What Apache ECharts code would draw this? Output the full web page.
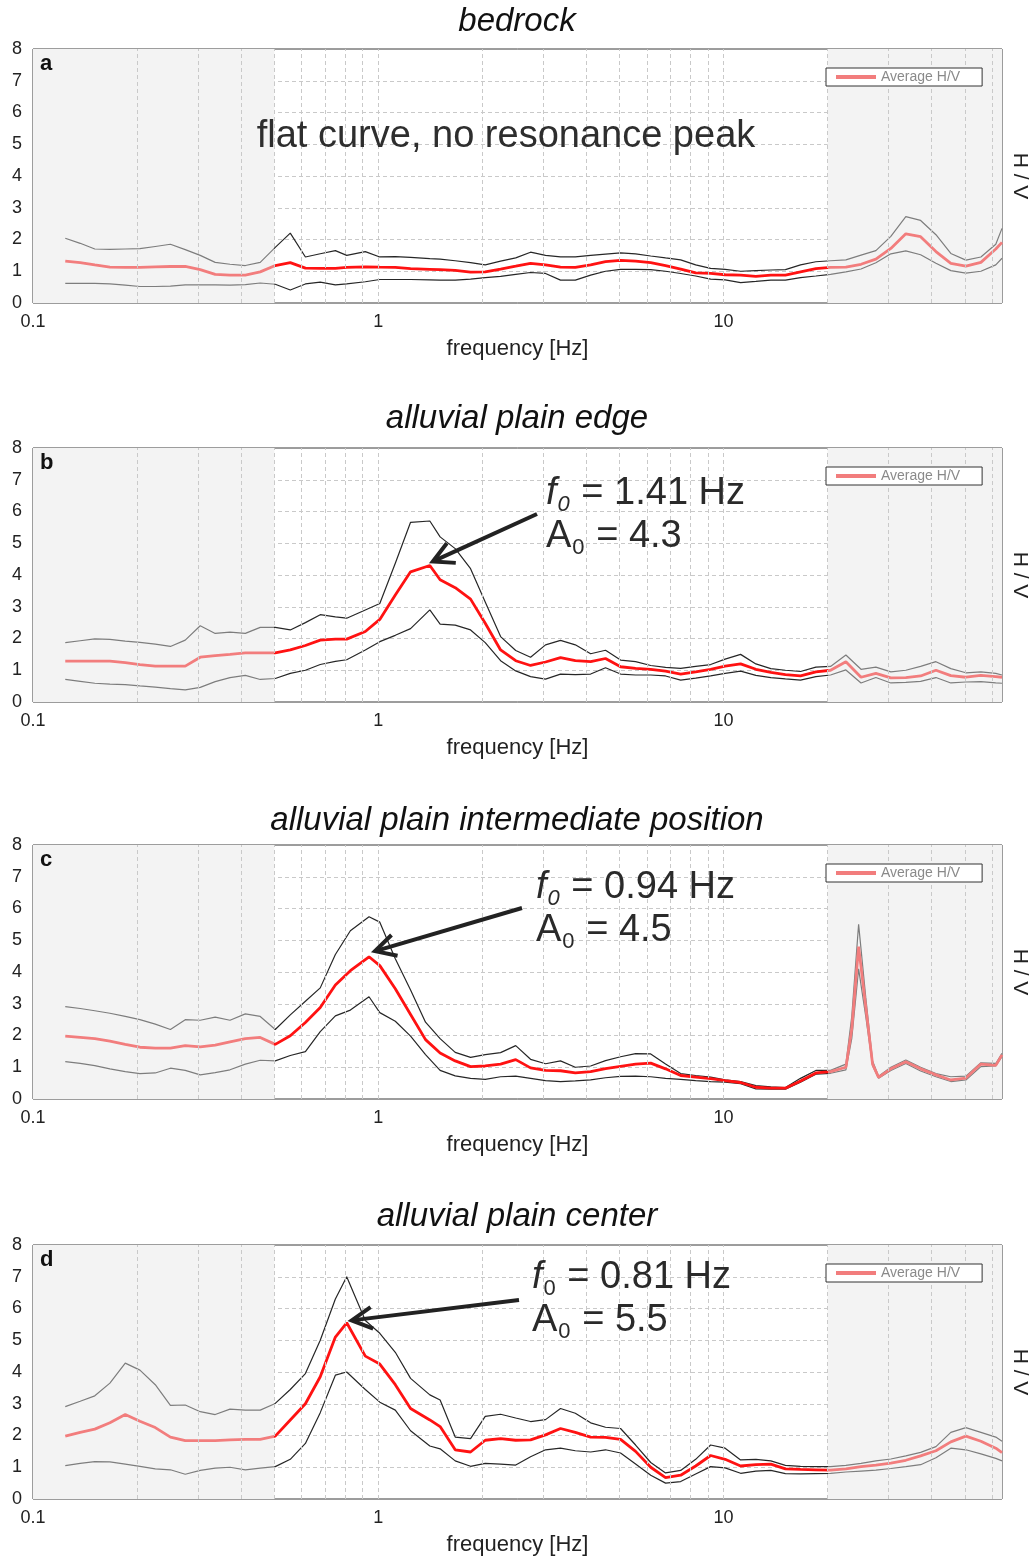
<!DOCTYPE html>
<html>
<head>
<meta charset="utf-8">
<title>H/V spectral ratio curves</title>
<script src="https://cdn.jsdelivr.net/npm/echarts@6/dist/echarts.min.js"></script>
<style>
  html, body { margin: 0; padding: 0; background: #fff; overflow: hidden; }
  #chart { width: 1035px; height: 1561px; }
</style>
</head>
<body>
<div id="chart"></div>
<script>
// frequencies (Hz) shared by panels a, b, d
const freqBase = [0.124, 0.137, 0.151, 0.167, 0.185, 0.204, 0.226, 0.250, 0.276, 0.305,
  0.337, 0.372, 0.412, 0.455, 0.503, 0.556, 0.615, 0.679, 0.751, 0.81,
  0.917, 1.01, 1.12, 1.24, 1.41, 1.51, 1.67, 1.85, 2.04, 2.26,
  2.50, 2.76, 3.05, 3.37, 3.72, 4.12, 4.55, 5.03, 5.56, 6.15,
  6.79, 7.51, 8.30, 9.17, 10.1, 11.2, 12.4, 13.7, 15.1, 16.7,
  18.5, 20.4, 22.6, 25.0, 27.6, 30.5, 33.7, 37.2, 41.2, 45.5,
  50.3, 55.6, 61.4, 64]

// panel c has a narrow peak near 24 Hz, so it gets a few more points there
const freqC = [0.124, 0.137, 0.151, 0.167, 0.185, 0.204, 0.226, 0.250, 0.276, 0.305,
  0.337, 0.372, 0.412, 0.455, 0.503, 0.556, 0.615, 0.679, 0.751, 0.830,
  0.94, 1.01, 1.12, 1.24, 1.37, 1.51, 1.67, 1.85, 2.04, 2.26,
  2.50, 2.76, 3.05, 3.37, 3.72, 4.12, 4.55, 5.03, 5.56, 6.15,
  6.79, 7.51, 8.30, 9.17, 10.1, 11.2, 12.4, 13.7, 15.1, 16.7,
  18.5, 20.4, 22.6, 23.5, 24.6, 25.8, 27.0, 28.1, 30.5, 33.7,
  37.2, 41.2, 45.5, 50.3, 55.6, 61.4, 64]

// a - bedrock
const upperA = [2.04, 1.88, 1.70, 1.69, 1.70, 1.71, 1.78, 1.85, 1.68, 1.50,
  1.28, 1.22, 1.18, 1.28, 1.75, 2.20, 1.45, 1.55, 1.65, 1.50,
  1.62, 1.45, 1.46, 1.44, 1.40, 1.38, 1.33, 1.27, 1.20, 1.32,
  1.42, 1.60, 1.50, 1.45, 1.45, 1.50, 1.54, 1.58, 1.55, 1.48,
  1.42, 1.36, 1.20, 1.09, 1.06, 1.00, 1.02, 1.04, 1.05, 1.20,
  1.30, 1.33, 1.36, 1.51, 1.65, 2.10, 2.72, 2.60, 2.15, 1.56,
  1.35, 1.45, 1.85, 2.35]
const meanA = [1.32, 1.27, 1.20, 1.13, 1.12, 1.12, 1.14, 1.15, 1.15, 1.05,
  0.90, 0.88, 0.88, 0.98, 1.18, 1.27, 1.10, 1.09, 1.09, 1.12,
  1.14, 1.13, 1.12, 1.08, 1.06, 1.05, 1.03, 0.97, 0.98, 1.07,
  1.16, 1.25, 1.20, 1.13, 1.12, 1.20, 1.30, 1.34, 1.32, 1.27,
  1.18, 1.07, 0.95, 0.93, 0.89, 0.88, 0.84, 0.88, 0.88, 0.98,
  1.08, 1.12, 1.13, 1.22, 1.38, 1.72, 2.18, 2.09, 1.62, 1.25,
  1.16, 1.28, 1.70, 1.91]
const lowerA = [0.62, 0.62, 0.62, 0.60, 0.56, 0.52, 0.52, 0.53, 0.57, 0.57,
  0.57, 0.56, 0.58, 0.63, 0.59, 0.41, 0.60, 0.66, 0.57, 0.60,
  0.67, 0.74, 0.74, 0.74, 0.73, 0.72, 0.72, 0.75, 0.80, 0.84,
  0.90, 0.96, 0.93, 0.72, 0.72, 0.88, 1.00, 1.06, 1.06, 1.05,
  1.00, 0.93, 0.85, 0.75, 0.73, 0.64, 0.68, 0.72, 0.72, 0.80,
  0.85, 0.90, 0.98, 1.07, 1.27, 1.55, 1.64, 1.52, 1.25, 1.02,
  0.94, 1.00, 1.20, 1.41]

// b - alluvial plain edge
const upperB = [1.87, 1.93, 1.99, 1.97, 1.92, 1.88, 1.82, 1.75, 1.95, 2.40,
  2.16, 2.20, 2.16, 2.35, 2.35, 2.27, 2.50, 2.75, 2.68, 2.64,
  2.90, 3.10, 4.37, 5.66, 5.70, 5.20, 4.83, 4.20, 3.15, 2.06,
  1.62, 1.41, 1.80, 1.94, 1.80, 1.52, 1.63, 1.32, 1.27, 1.15,
  1.09, 1.06, 1.12, 1.18, 1.35, 1.50, 1.20, 1.05, 1.00, 0.96,
  1.10, 1.12, 1.48, 1.03, 1.10, 0.95, 1.00, 1.12, 1.27, 1.05,
  0.92, 0.95, 0.90, 0.85]
const meanB = [1.29, 1.29, 1.29, 1.29, 1.24, 1.18, 1.13, 1.13, 1.13, 1.41,
  1.46, 1.50, 1.55, 1.55, 1.55, 1.64, 1.78, 1.95, 1.98, 1.98,
  2.22, 2.60, 3.37, 4.10, 4.30, 3.85, 3.60, 3.24, 2.48, 1.64,
  1.30, 1.15, 1.26, 1.40, 1.30, 1.27, 1.37, 1.11, 1.06, 1.03,
  0.97, 0.88, 0.95, 1.03, 1.13, 1.20, 1.03, 0.93, 0.86, 0.82,
  0.95, 1.00, 1.27, 0.78, 0.90, 0.76, 0.77, 0.82, 1.00, 0.83,
  0.78, 0.84, 0.80, 0.78]
const lowerB = [0.71, 0.65, 0.59, 0.56, 0.55, 0.51, 0.47, 0.42, 0.38, 0.46,
  0.64, 0.77, 0.84, 0.71, 0.74, 0.90, 1.00, 1.18, 1.28, 1.33,
  1.64, 1.90, 2.10, 2.31, 2.90, 2.45, 2.42, 2.27, 1.87, 1.30,
  0.98, 0.80, 0.72, 0.88, 0.86, 0.88, 1.08, 0.88, 0.85, 0.85,
  0.82, 0.69, 0.75, 0.82, 0.90, 0.97, 0.84, 0.77, 0.73, 0.69,
  0.80, 0.85, 1.01, 0.60, 0.77, 0.60, 0.62, 0.65, 0.77, 0.60,
  0.63, 0.64, 0.60, 0.59]

// c - alluvial plain intermediate position
const upperC = [2.91, 2.85, 2.78, 2.70, 2.60, 2.50, 2.36, 2.19, 2.50, 2.48,
  2.58, 2.48, 2.68, 2.60, 2.19, 2.65, 3.08, 3.50, 4.55, 5.30,
  5.74, 5.57, 4.42, 3.43, 2.42, 1.90, 1.47, 1.31, 1.40, 1.46,
  1.68, 1.25, 1.11, 1.20, 1.00, 1.04, 1.21, 1.33, 1.43, 1.42,
  1.10, 0.80, 0.74, 0.69, 0.60, 0.55, 0.42, 0.38, 0.36, 0.65,
  0.90, 0.90, 1.10, 2.60, 5.50, 3.20, 1.20, 0.72, 1.00, 1.23,
  1.00, 0.80, 0.70, 0.72, 1.14, 1.12, 1.44]
const meanC = [1.98, 1.94, 1.90, 1.82, 1.72, 1.63, 1.60, 1.60, 1.68, 1.64,
  1.70, 1.80, 1.90, 1.94, 1.72, 1.99, 2.41, 2.88, 3.59, 4.04,
  4.48, 4.20, 3.47, 2.66, 1.87, 1.45, 1.20, 1.02, 1.04, 1.10,
  1.24, 0.98, 0.90, 0.89, 0.82, 0.86, 0.96, 1.03, 1.10, 1.13,
  0.95, 0.74, 0.69, 0.64, 0.58, 0.52, 0.37, 0.34, 0.34, 0.57,
  0.82, 0.86, 1.00, 2.20, 4.80, 2.90, 1.10, 0.68, 0.95, 1.17,
  0.95, 0.76, 0.60, 0.66, 1.10, 1.06, 1.39]
const lowerC = [1.18, 1.12, 1.05, 0.95, 0.86, 0.80, 0.82, 0.97, 0.90, 0.76,
  0.83, 0.92, 1.10, 1.22, 1.20, 1.37, 1.49, 2.12, 2.62, 2.80,
  3.22, 2.72, 2.45, 1.98, 1.40, 0.90, 0.73, 0.65, 0.62, 0.70,
  0.72, 0.65, 0.58, 0.55, 0.57, 0.60, 0.67, 0.71, 0.72, 0.70,
  0.65, 0.62, 0.58, 0.55, 0.53, 0.48, 0.32, 0.31, 0.31, 0.53,
  0.78, 0.81, 0.92, 1.90, 4.10, 2.60, 1.05, 0.65, 0.90, 1.12,
  0.88, 0.70, 0.55, 0.60, 1.02, 1.04, 1.33]

// d - alluvial plain center
const upperD = [2.91, 3.08, 3.25, 3.65, 4.28, 4.06, 3.60, 2.95, 2.96, 2.75,
  2.66, 2.83, 2.80, 2.80, 3.01, 3.45, 3.95, 5.00, 6.30, 7.00,
  5.62, 5.22, 4.62, 3.80, 3.28, 3.12, 1.95, 1.90, 2.60, 2.67,
  2.55, 2.44, 2.50, 2.85, 2.70, 2.40, 2.26, 2.22, 1.70, 1.15,
  0.82, 0.90, 1.25, 1.70, 1.60, 1.23, 1.25, 1.20, 1.06, 1.03,
  1.02, 1.02, 1.06, 1.12, 1.20, 1.26, 1.36, 1.47, 1.65, 2.10,
  2.25, 2.10, 1.95, 1.82]
const meanD = [1.98, 2.10, 2.20, 2.40, 2.66, 2.45, 2.25, 1.95, 1.84, 1.84,
  1.84, 1.86, 1.88, 1.88, 1.98, 2.49, 3.00, 3.85, 5.10, 5.55,
  4.50, 4.25, 3.60, 2.85, 2.49, 2.28, 1.55, 1.48, 1.85, 1.90,
  1.85, 1.86, 2.02, 2.22, 2.10, 1.95, 1.94, 1.88, 1.50, 1.00,
  0.67, 0.75, 1.04, 1.37, 1.25, 1.04, 1.08, 1.10, 0.95, 0.93,
  0.92, 0.91, 0.95, 1.02, 1.07, 1.13, 1.22, 1.36, 1.52, 1.80,
  1.98, 1.82, 1.60, 1.46]
const lowerD = [1.05, 1.12, 1.18, 1.17, 1.10, 1.03, 0.95, 0.92, 0.78, 0.90,
  0.97, 1.00, 0.92, 0.97, 1.02, 1.25, 1.75, 2.72, 3.90, 4.00,
  3.45, 3.05, 2.80, 2.15, 1.67, 1.58, 1.20, 1.03, 1.12, 1.10,
  1.07, 1.33, 1.55, 1.60, 1.52, 1.48, 1.55, 1.45, 1.10, 0.75,
  0.50, 0.55, 0.79, 1.02, 0.98, 0.81, 0.88, 0.90, 0.80, 0.79,
  0.80, 0.81, 0.85, 0.88, 0.91, 0.96, 1.02, 1.08, 1.30, 1.60,
  1.55, 1.42, 1.28, 1.20]

// dashed vertical grid lines and the band limits of the valid window
const gridFreqs = [0.2, 0.3, 0.4, 0.5, 0.6, 0.7, 0.8, 0.9, 1, 2, 3, 4, 5, 6, 7, 8, 9, 10, 20, 30, 40, 50, 60]
const bandLow = 0.5
const bandHigh = 20

// resonance peaks (f0, A0) marked with an arrow
const peaks = [
  { panel: 1, f: 1.41, a: 4.3, x: 546, base: 507, tail: [537, 514], dx: 3, dy: -4, subItalic: true },
  { panel: 2, f: 0.94, a: 4.5, x: 536, base: 901, tail: [522, 908], dx: 6, dy: -5, subItalic: true },
  { panel: 3, f: 0.81, a: 5.5, x: 532, base: 1291, tail: [519, 1300], dx: 5, dy: -4, subItalic: false }
]

const FONT = '"Liberation Sans", Arial, Helvetica, sans-serif'
const RED = '#ff1212'
const RED_LIGHT = '#f27d7d'
const DARK = '#262626'
const DARK_LIGHT = '#7d7d7d'
const GRID_H = 254

const panels = [
  { title: 'bedrock', letter: 'a', top: 49, titleBase: 33, freq: freqBase, upper: upperA, mean: meanA, lower: lowerA },
  { title: 'alluvial plain edge', letter: 'b', top: 448, titleBase: 430, freq: freqBase, upper: upperB, mean: meanB, lower: lowerB },
  { title: 'alluvial plain intermediate position', letter: 'c', top: 845, titleBase: 832, freq: freqC, upper: upperC, mean: meanC, lower: lowerC },
  { title: 'alluvial plain center', letter: 'd', top: 1245, titleBase: 1228, freq: freqBase, upper: upperD, mean: meanD, lower: lowerD }
]

function pairs(xs, ys) {
  return xs.map((x, i) => [x, ys[i]])
}

const chart = echarts.init(document.getElementById('chart'))

const grids = []
const xAxes = []
const yAxes = []
const series = []
const legends = []
const redIdx = []
const blackIdx = []

panels.forEach((p, i) => {
  grids.push({
    left: 33, right: 33, top: p.top, height: GRID_H,
    outerBoundsMode: 'none',
    show: true, borderColor: '#3a3a3a', borderWidth: 1, backgroundColor: 'transparent'
  })
  xAxes.push({
    type: 'log', logBase: 10, gridIndex: i, min: 0.1, max: 64,
    name: 'frequency [Hz]', nameLocation: 'middle', nameGap: 35,
    nameTextStyle: { fontSize: 22, color: '#222', fontFamily: FONT },
    axisLine: { show: false }, axisTick: { show: false }, splitLine: { show: false },
    axisLabel: { fontSize: 18, color: '#222', margin: 10, fontFamily: FONT, showMaxLabel: false }
  })
  yAxes.push({
    type: 'value', gridIndex: i, position: 'left', min: 0, max: 8, interval: 1,
    axisLine: { show: false }, axisTick: { show: false },
    axisLabel: { fontSize: 18, color: '#222', margin: 11, fontFamily: FONT },
    splitLine: { show: true, showMinLine: false, showMaxLine: false, lineStyle: { color: '#c9c9c9', type: [4, 3], width: 1 } }
  })
  yAxes.push({
    type: 'value', gridIndex: i, position: 'right', min: 0, max: 8,
    name: 'H / V', nameLocation: 'middle', nameRotate: -90, nameGap: 7,
    nameTextStyle: { fontSize: 21, color: '#222', fontFamily: FONT },
    axisLine: { show: false }, axisTick: { show: false }, axisLabel: { show: false }, splitLine: { show: false }
  })

  // shaded out-of-window bands and dashed frequency grid
  series.push({
    type: 'line', xAxisIndex: i, yAxisIndex: 2 * i, data: [], z: 1, silent: true,
    markArea: {
      silent: true,
      itemStyle: { color: '#f3f3f3' },
      data: [[{ xAxis: 0.1 }, { xAxis: bandLow }], [{ xAxis: bandHigh }, { xAxis: 64 }]]
    },
    markLine: {
      silent: true, symbol: ['none', 'none'], label: { show: false },
      lineStyle: { color: '#c9c9c9', type: [4, 3], width: 1 },
      emphasis: { disabled: true },
      data: gridFreqs.map(f => ({ xAxis: f }))
    }
  })

  blackIdx.push(series.length)
  series.push({
    name: 'H/V + std', type: 'line', xAxisIndex: i, yAxisIndex: 2 * i,
    data: pairs(p.freq, p.upper), showSymbol: false, z: 3,
    lineStyle: { width: 1.2 }
  })
  blackIdx.push(series.length)
  series.push({
    name: 'H/V - std', type: 'line', xAxisIndex: i, yAxisIndex: 2 * i,
    data: pairs(p.freq, p.lower), showSymbol: false, z: 3,
    lineStyle: { width: 1.2 }
  })
  redIdx.push(series.length)
  series.push({
    name: 'Average H/V', type: 'line', xAxisIndex: i, yAxisIndex: 2 * i,
    data: pairs(p.freq, p.mean), showSymbol: false, z: 4,
    lineStyle: { width: 2.8 }
  })

  legends.push({
    left: 826, top: p.top + 19, orient: 'horizontal', selectedMode: false, z: 20,
    padding: [2, 22, 2, 10], itemWidth: 40, itemHeight: 4,
    borderColor: '#333', borderWidth: 1, borderRadius: 0, backgroundColor: '#fff',
    textStyle: { color: '#8a8a8a', fontSize: 14, fontFamily: FONT },
    data: [{ name: 'Average H/V', icon: 'rect', itemStyle: { color: RED_LIGHT }, lineStyle: { color: RED_LIGHT } }]
  })
})

function bandPieces(inside, outside) {
  return [
    { lt: bandLow, color: outside },
    { gte: bandLow, lte: bandHigh, color: inside },
    { gt: bandHigh, color: outside }
  ]
}

const option = {
  animation: false,
  textStyle: { fontFamily: FONT },
  grid: grids,
  xAxis: xAxes,
  yAxis: yAxes,
  legend: legends,
  visualMap: [
    { type: 'piecewise', show: false, dimension: 0, seriesIndex: redIdx, pieces: bandPieces(RED, RED_LIGHT) },
    { type: 'piecewise', show: false, dimension: 0, seriesIndex: blackIdx, pieces: bandPieces(DARK, DARK_LIGHT) }
  ],
  series: series
}

chart.setOption(option)

// ---- annotations ----
const ctx = document.createElement('canvas').getContext('2d')
function textWidth(str, font) {
  ctx.font = font
  return ctx.measureText(str).width
}
function font(size, italic, bold) {
  return (italic ? 'italic ' : '') + (bold ? 'bold ' : '') + size + 'px ' + FONT
}
// y for a 'middle' aligned text whose baseline should sit at `base`
function mid(base, size) {
  return base - 0.347 * size
}
function txt(str, x, base, size, opts) {
  opts = opts || {}
  return {
    type: 'text', x: x, y: mid(base, size), silent: true, z: 100,
    style: {
      text: str, font: font(size, opts.italic, opts.bold), fill: opts.fill || '#222',
      align: opts.align || 'left', verticalAlign: 'middle'
    }
  }
}

const graphics = []

panels.forEach(p => {
  graphics.push(txt(p.title, 517, p.titleBase, 33, { italic: true, align: 'center', fill: '#111' }))
  graphics.push(txt(p.letter, 40, p.top + 23, 22, { bold: true, fill: '#111' }))
})

graphics.push(txt('flat curve, no resonance peak', 506, 150, 38, { align: 'center', fill: '#2e2e2e' }))

const BIG = 38
const SUB = 22
peaks.forEach(pk => {
  // f0 line
  let x = pk.x
  graphics.push(txt('f', x, pk.base, BIG, { italic: true, fill: '#2a2a2a' }))
  x += textWidth('f', font(BIG, true)) + 1
  graphics.push(txt('0', x, pk.base + 6, SUB, { italic: pk.subItalic, fill: '#2a2a2a' }))
  x += textWidth('0', font(SUB, pk.subItalic)) + 1
  graphics.push(txt(' = ' + pk.f.toFixed(2) + ' Hz', x, pk.base, BIG, { fill: '#2a2a2a' }))
  // A0 line
  const base2 = pk.base + 43
  x = pk.x
  graphics.push(txt('A', x, base2, BIG, { fill: '#2a2a2a' }))
  x += textWidth('A', font(BIG)) + 1
  graphics.push(txt('0', x, base2 + 6, SUB, { fill: '#2a2a2a' }))
  x += textWidth('0', font(SUB)) + 1
  graphics.push(txt(' = ' + pk.a.toFixed(1), x, base2, BIG, { fill: '#2a2a2a' }))

  // arrow from the text to the peak of the average curve
  const pt = chart.convertToPixel({ xAxisIndex: pk.panel, yAxisIndex: 2 * pk.panel }, [pk.f, pk.a])
  const tip = [pt[0] + pk.dx, pt[1] + pk.dy]
  const vx = pk.tail[0] - tip[0]
  const vy = pk.tail[1] - tip[1]
  const len = Math.sqrt(vx * vx + vy * vy)
  const ux = vx / len
  const uy = vy / len
  const arm = 23
  const ang = 28 * Math.PI / 180
  const rot = a => [tip[0] + arm * (ux * Math.cos(a) - uy * Math.sin(a)), tip[1] + arm * (ux * Math.sin(a) + uy * Math.cos(a))]
  graphics.push({
    type: 'line', silent: true, z: 100,
    shape: { x1: pk.tail[0], y1: pk.tail[1], x2: tip[0] + ux * 2, y2: tip[1] + uy * 2 },
    style: { stroke: '#222', lineWidth: 4 }
  })
  graphics.push({
    type: 'polyline', silent: true, z: 100,
    shape: { points: [rot(ang), tip, rot(-ang)] },
    style: { stroke: '#222', lineWidth: 4, fill: null, lineJoin: 'miter' }
  })
})

chart.setOption({ graphic: graphics })
</script>
</body>
</html>
